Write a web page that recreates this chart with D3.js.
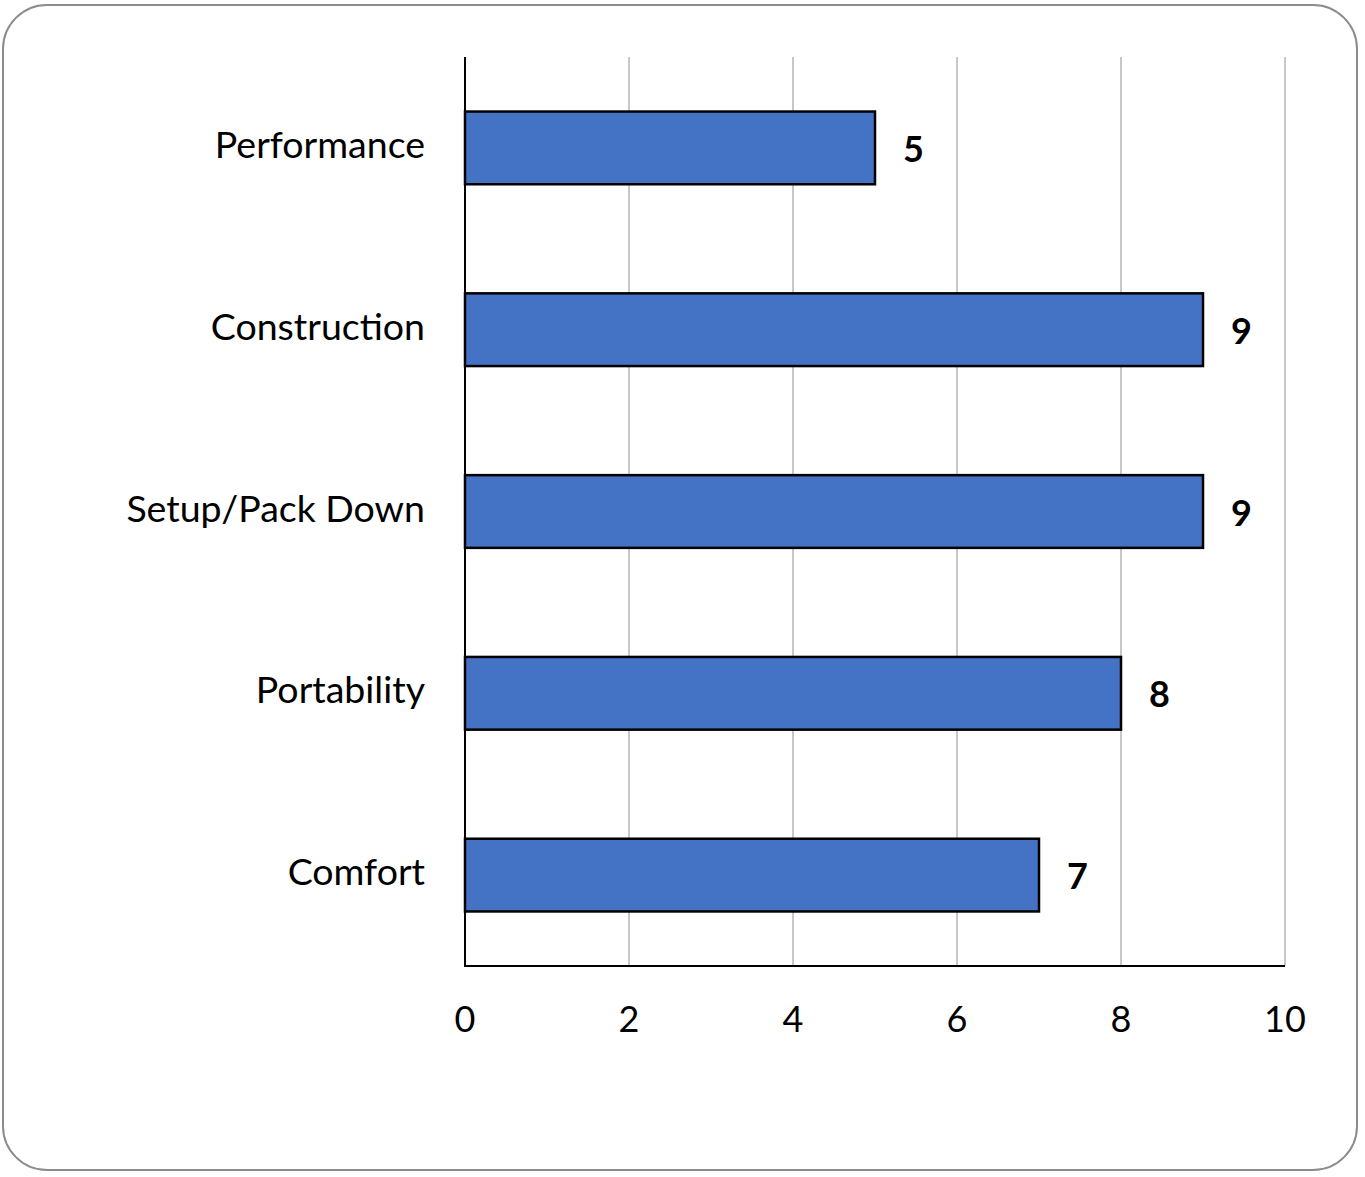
<!DOCTYPE html>
<html>
<head>
<meta charset="utf-8">
<script src="https://cdnjs.cloudflare.com/ajax/libs/d3/7.8.5/d3.min.js"></script>
<style>
  body { margin: 0; background: #fff; }
  svg text { font-family: Lato, "Open Sans", sans-serif; fill: #000; }
</style>
</head>
<body>
<svg id="chart" width="1365" height="1177"></svg>
<script>
var categories = ['Performance', 'Construction', 'Setup/Pack Down', 'Portability', 'Comfort']
var scores = [5, 9, 9, 8, 7]
var xTicks = [0, 2, 4, 6, 8, 10]

var svg = d3.select('#chart')

// outer frame
svg.append('rect')
  .attr('x', 3).attr('y', 5)
  .attr('width', 1354).attr('height', 1165)
  .attr('rx', 44).attr('ry', 44)
  .attr('fill', '#fff')
  .attr('stroke', '#8c8c8c')
  .attr('stroke-width', 2)

var x = d3.scaleLinear().domain([0, 10]).range([465, 1285])
var y = d3.scaleBand().domain(categories).range([57, 966]).paddingInner(0.6).paddingOuter(0.3)

// gridlines
svg.append('g').selectAll('line').data(xTicks.slice(1))
  .enter().append('line')
  .attr('x1', function (d) { return x(d) }).attr('x2', function (d) { return x(d) })
  .attr('y1', 57).attr('y2', 966)
  .attr('stroke', '#c8c8c8').attr('stroke-width', 2)

// bars
svg.append('g').selectAll('rect').data(scores)
  .enter().append('rect')
  .attr('x', x(0))
  .attr('y', function (d, i) { return y(categories[i]) })
  .attr('width', function (d) { return x(d) - x(0) })
  .attr('height', y.bandwidth())
  .attr('fill', '#4472c4')
  .attr('stroke', '#000').attr('stroke-width', 2.5)

// value labels
svg.append('g').selectAll('text').data(scores)
  .enter().append('text')
  .attr('x', function (d) { return x(d) + 28 })
  .attr('y', function (d, i) { return y(categories[i]) + y.bandwidth() / 2 + 14 })
  .attr('font-size', 36).attr('font-weight', 'bold')
  .text(function (d) { return d })

// axes lines
svg.append('line')
  .attr('x1', x(0)).attr('x2', x(0)).attr('y1', 57).attr('y2', 967)
  .attr('stroke', '#000').attr('stroke-width', 2)
svg.append('line')
  .attr('x1', x(0)).attr('x2', x(10)).attr('y1', 966).attr('y2', 966)
  .attr('stroke', '#000').attr('stroke-width', 2)

// category labels
svg.append('g').selectAll('text').data(categories)
  .enter().append('text')
  .attr('x', 425)
  .attr('y', function (d) { return y(d) + y.bandwidth() / 2 + 10 })
  .attr('text-anchor', 'end')
  .attr('font-size', 37.5)
  .text(function (d) { return d })

// tick labels
svg.append('g').selectAll('text').data(xTicks)
  .enter().append('text')
  .attr('x', function (d) { return x(d) })
  .attr('y', 1032)
  .attr('text-anchor', 'middle')
  .attr('font-size', 36)
  .text(function (d) { return d })
</script>
</body>
</html>
